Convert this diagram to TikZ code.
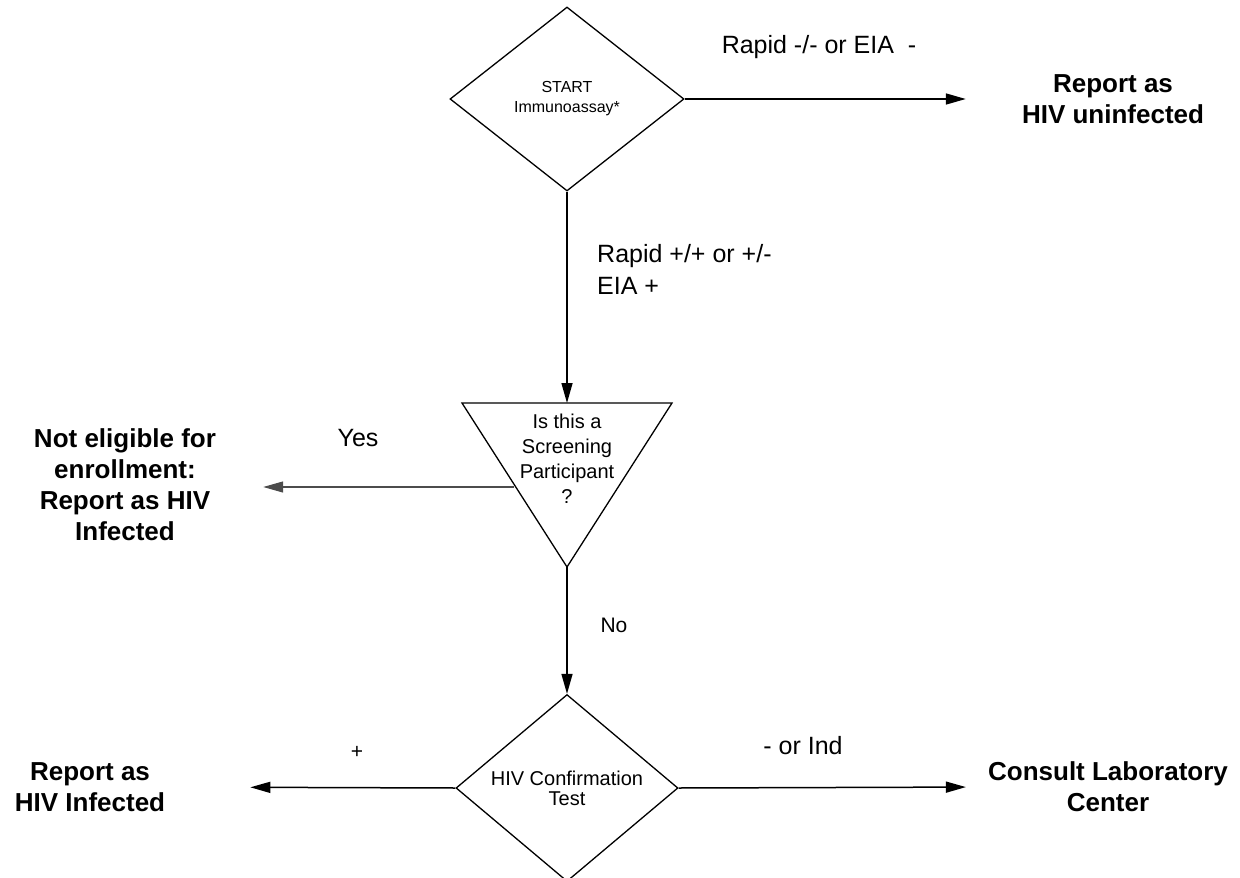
\documentclass[tikz,border=0pt]{standalone}
\usepackage{fontspec}
\setmainfont{Liberation Sans}
\usetikzlibrary{shapes.geometric, arrows.meta}

\begin{document}
\begin{tikzpicture}[x=1pt, y=-1pt,
  dia/.style={draw, diamond, inner sep=0pt, line width=1.3pt, align=center, font=\fontsize{16}{20}\selectfont},
  lbl/.style={font=\fontsize{25}{32}\selectfont, align=left, inner sep=0pt},
  res/.style={font=\bfseries\fontsize{26}{31}\selectfont, align=center, inner sep=0pt},
  arr/.style={line width=1.5pt, -{Triangle[length=20pt, width=11pt]}}]
\useasboundingbox (0,0) rectangle (1240,878);

\node[dia, minimum width=234pt, minimum height=184pt] (start) at (567,99) {START\\Immunoassay*};
\node[res] (uninf) at (1113,99) {Report as\\HIV uninfected};
\node[lbl] (negtop) at (819,47) {Rapid -/- or EIA \ -};
\draw[arr] (start.east) -- (uninf.west) [shorten >=56pt];

% screening triangle
\coordinate (tl) at (462,403);
\coordinate (tr) at (672,403);
\coordinate (tb) at (567,567);
\coordinate (tritop) at (567,403);
\coordinate (triL) at (514,487);
\draw[line width=1.3pt, line join=miter] (tl) -- (tr) -- (tb) -- cycle;
\node[align=center, inner sep=0pt, font=\fontsize{20}{25}\selectfont] (screen) at (567,459) {Is this a\\Screening\\Participant\\?};

\draw[arr] (start.south) -- (tritop);
\node[lbl, anchor=west] (postop) at (597,269) {Rapid +/+ or +/-\\EIA +};

\node[res] (notelig) at (125,485) {Not eligible for\\enrollment:\\Report as HIV\\Infected};
\node[lbl] (yes) at (358,438) {Yes};
\draw[arr, line width=1.2pt, black!70] (triL) -- (triL -| notelig.east) [shorten >=47pt];

\node[dia, minimum width=222pt, minimum height=175pt] (confirm) at (567,788) {\fontsize{20}{22}\selectfont HIV Confirmation\\\fontsize{20}{22}\selectfont Test};
\node[lbl, font=\fontsize{21}{25}\selectfont] (no) at (614,625) {No};
\draw[arr] (tb) -- (confirm.north);

\node[res] (infected) at (90,787) {Report as\\HIV Infected};
\node[lbl, font=\fontsize{21}{25}\selectfont] (plus) at (357,752) {+};
\draw[arr] (confirm.west) -- (infected.east) [shorten >=85pt];

\node[res] (consult) at (1108,787) {Consult Laboratory\\Center};
\node[lbl] (negind) at (803,746) {- or Ind};
\draw[arr] (confirm.east) -- (consult.west) [shorten >=22pt];
\end{tikzpicture}
\end{document}
